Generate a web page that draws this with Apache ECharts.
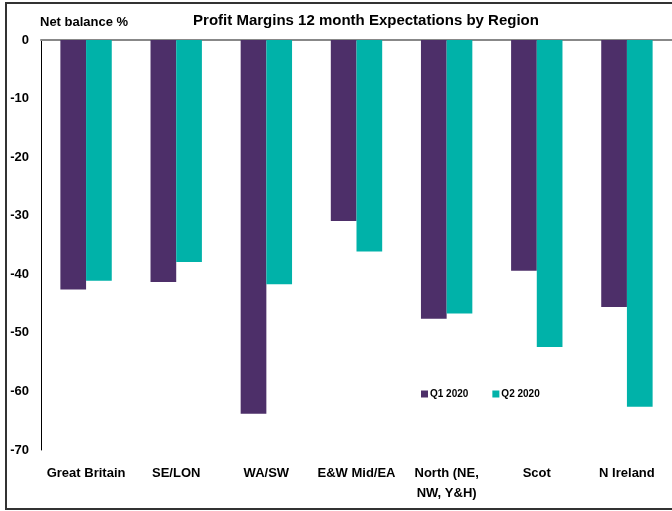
<!DOCTYPE html>
<html>
<head>
<meta charset="utf-8">
<script src="https://cdn.jsdelivr.net/npm/echarts@6/dist/echarts.min.js"></script>
<style>
  html, body { margin: 0; padding: 0; background: #fff; }
  #chart { width: 672px; height: 511px; }
</style>
</head>
<body>
<div id="chart"></div>
<script>
// regions and net balance values
const regions = ['Great Britain', 'SE/LON', 'WA/SW', 'E&W Mid/EA', 'North (NE,\nNW, Y&H)', 'Scot', 'N Ireland'];
const q1Values = [-42.6, -41.3, -63.8, -30.9, -47.6, -39.4, -45.6];
const q2Values = [-41.1, -37.9, -41.7, -36.1, -46.7, -52.4, -62.6];
const yTicks = [0, -10, -20, -30, -40, -50, -60, -70];

const font = '"Liberation Sans Narrow", "Liberation Sans", Arial, sans-serif';

const chart = echarts.init(document.getElementById('chart'), null, { renderer: 'canvas' });

const option = {
  backgroundColor: '#ffffff',
  color: ['#4D2F69', '#00B2A9'],
  animation: false,
  title: {
    text: 'Profit Margins 12 month Expectations by Region',
    left: 361,
    textAlign: 'center',
    top: 8,
    textStyle: { fontFamily: font, fontSize: 15, fontWeight: 'bold', color: '#000' }
  },
  graphic: [
    {
      type: 'rect',
      shape: { x: 6, y: 3, width: 680, height: 506 },
      style: { fill: null, stroke: '#333', lineWidth: 2 },
      silent: true
    },
    {
      type: 'text',
      left: 40,
      top: 16,
      style: { text: 'Net balance %', font: 'bold 13px ' + font, fill: '#000' }
    }
  ],
  legend: {
    left: 416,
    top: 384,
    itemWidth: 7,
    itemHeight: 7,
    itemGap: 24,
    icon: 'rect',
    textStyle: { fontFamily: font, fontSize: 10, fontWeight: 'bold', color: '#000', padding: [0, 0, 0, -3] }
  },
  grid: { left: 41, top: 40, width: 637, height: 410 },
  xAxis: [
    {
      type: 'category',
      data: regions,
      position: 'bottom',
      axisLine: { show: false, onZero: false },
      axisTick: { show: false },
      axisLabel: {
        margin: 13,
        interval: 0,
        fontFamily: font,
        fontSize: 13,
        fontWeight: 'bold',
        color: '#000',
        lineHeight: 20
      }
    },
    {
      type: 'category',
      data: regions,
      position: 'top',
      axisLine: { show: true, onZero: false, lineStyle: { color: '#888', width: 2 } },
      axisTick: { show: false },
      axisLabel: { show: false }
    }
  ],
  yAxis: {
    type: 'value',
    min: yTicks[yTicks.length - 1],
    max: yTicks[0],
    interval: 10,
    axisLine: { show: true, lineStyle: { color: '#000', width: 1 } },
    axisTick: { show: false },
    splitLine: { show: false },
    axisLabel: {
      margin: 12,
      fontFamily: font,
      fontSize: 13,
      fontWeight: 'bold',
      color: '#000'
    }
  },
  series: [
    {
      name: 'Q1 2020',
      type: 'bar',
      data: q1Values,
      barGap: '0%',
      barCategoryGap: '43%'
    },
    {
      name: 'Q2 2020',
      type: 'bar',
      data: q2Values,
      barGap: '0%',
      barCategoryGap: '43%'
    }
  ]
};

chart.setOption(option);
</script>
</body>
</html>
